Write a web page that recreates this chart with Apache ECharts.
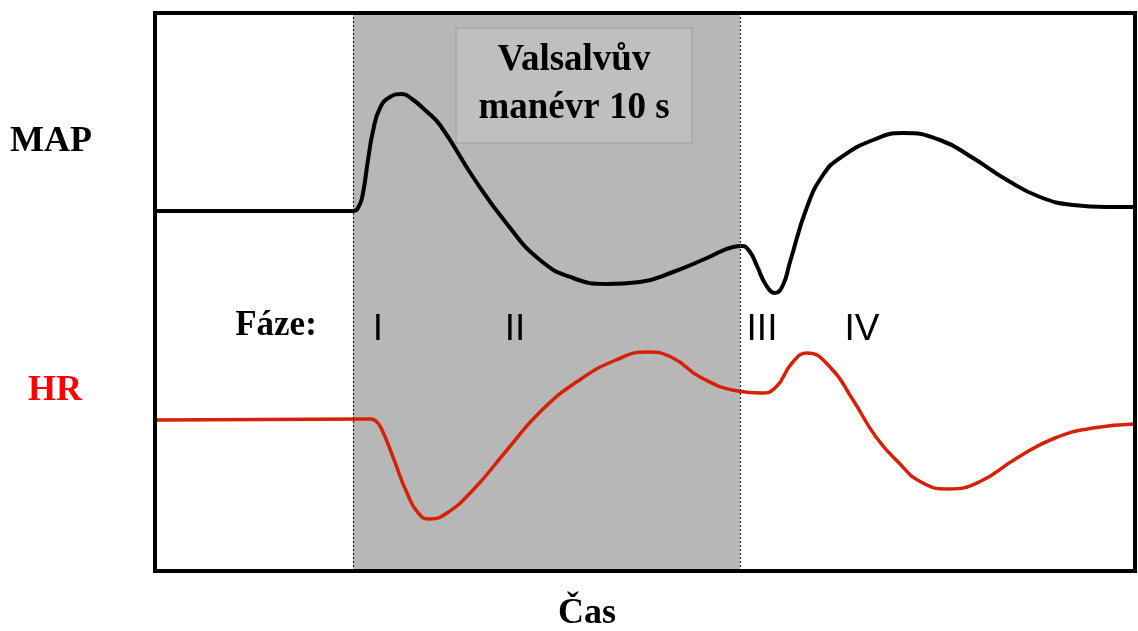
<!DOCTYPE html>
<html>
<head>
<meta charset="utf-8">
<script src="https://cdn.jsdelivr.net/npm/echarts@6/dist/echarts.min.js"></script>
<style>
  html, body { margin: 0; padding: 0; background: #fff; }
  #main { width: 1138px; height: 631px; }
</style>
</head>
<body>
<div id="main"></div>
<script>
// time (x) and level (y), arbitrary units
var mapTime = [0, 198, 204, 208, 213, 218, 225, 235, 247, 257, 270, 285, 318, 352, 385, 418, 452, 485, 518, 552, 578, 587, 595, 602, 611, 620, 628, 635, 652, 668, 685, 718, 748, 785, 818, 852, 885, 918, 952, 980];
var mapValue = [360, 360, 365, 378, 411, 440, 463, 474, 477, 472, 461, 446, 394, 347, 311, 293, 287, 289, 299, 313, 324, 325, 319, 305, 286, 278, 286, 309, 364, 396, 413, 431, 438, 431, 413, 391, 374, 366, 364, 364];
var hrTime = [0, 215, 221, 227, 238, 252, 265, 275, 292, 318, 352, 385, 423, 461, 492, 518, 545, 583, 606, 621, 637, 652, 675, 698, 721, 744, 766, 793, 824, 862, 900, 938, 980];
var hrValue = [151, 152, 150, 141, 114, 78, 56, 52, 58, 81, 121, 159, 190, 211, 219, 213, 194, 180, 178, 184, 208, 218, 204, 171, 134, 108, 89, 82, 89, 113, 133, 143, 147];
var manoeuvre = [198, 585];
var phaseLabels = ['I', 'II', 'III', 'IV'];

function pairs(xs, ys) {
  var out = [];
  for (var i = 0; i < xs.length; i++) {
    out.push([xs[i], ys[i]]);
  }
  return out;
}

var myChart = echarts.init(document.getElementById('main'));

var serif = '"Liberation Serif", "Times New Roman", serif';
var sans = '"Liberation Sans", Arial, sans-serif';
var phaseX = [378, 515, 762, 862];

var graphics = [
  { type: 'rect', z: 100, shape: { x: 155, y: 13, width: 980, height: 558 },
    style: { fill: 'none', stroke: '#000', lineWidth: 4 } },
  { type: 'rect', z: 50, shape: { x: 456, y: 28, width: 236, height: 115 },
    style: { fill: '#bfbfbf', stroke: '#a9a9a9', lineWidth: 1.5 } },
  { type: 'text', z: 51, x: 574, y: 60,
    style: { text: 'Valsalvův', font: 'bold 37px ' + serif, fill: '#000', textAlign: 'center', textVerticalAlign: 'middle' } },
  { type: 'text', z: 51, x: 574, y: 108,
    style: { text: 'manévr 10 s', font: 'bold 37px ' + serif, fill: '#000', textAlign: 'center', textVerticalAlign: 'middle' } },
  { type: 'text', x: 51, y: 142,
    style: { text: 'MAP', font: 'bold 36px ' + serif, fill: '#000', textAlign: 'center', textVerticalAlign: 'middle' } },
  { type: 'text', x: 55, y: 391,
    style: { text: 'HR', font: 'bold 36px ' + serif, fill: '#ff0000', textAlign: 'center', textVerticalAlign: 'middle' } },
  { type: 'text', z: 60, x: 276, y: 326,
    style: { text: 'Fáze:', font: 'bold 35px ' + serif, fill: '#000', textAlign: 'center', textVerticalAlign: 'middle' } },
  { type: 'text', x: 587, y: 614,
    style: { text: 'Čas', font: 'bold 36px ' + serif, fill: '#000', textAlign: 'center', textVerticalAlign: 'middle' } }
];
for (var i = 0; i < phaseLabels.length; i++) {
  graphics.push({ type: 'text', z: 60, x: phaseX[i], y: 330,
    style: { text: phaseLabels[i], font: '37px ' + sans, fill: '#000', textAlign: 'center', textVerticalAlign: 'middle' } });
}

var option = {
  animation: false,
  grid: { left: 155, right: 3, top: 13, bottom: 60, show: false },
  xAxis: { type: 'value', min: 0, max: 980, show: false },
  yAxis: { type: 'value', min: 0, max: 558, show: false },
  series: [
    {
      name: 'manevr',
      type: 'line',
      z: 1,
      data: [],
      markArea: {
        silent: true,
        itemStyle: { color: '#b7b7b7' },
        data: [[{ xAxis: manoeuvre[0] }, { xAxis: manoeuvre[1] }]]
      },
      markLine: {
        silent: true,
        symbol: 'none',
        label: { show: false },
        lineStyle: { color: '#222', type: [2, 2], width: 1.2 },
        data: [{ xAxis: manoeuvre[0] }, { xAxis: manoeuvre[1] }]
      }
    },
    {
      name: 'MAP',
      type: 'line',
      z: 3,
      smooth: 0.5,
      showSymbol: false,
      lineStyle: { color: '#000', width: 4 },
      data: pairs(mapTime, mapValue)
    },
    {
      name: 'HR',
      type: 'line',
      z: 3,
      smooth: 0.5,
      showSymbol: false,
      lineStyle: { color: '#d62106', width: 3.5 },
      data: pairs(hrTime, hrValue)
    }
  ],
  graphic: graphics
};
option && myChart.setOption(option);
</script>
</body>
</html>
